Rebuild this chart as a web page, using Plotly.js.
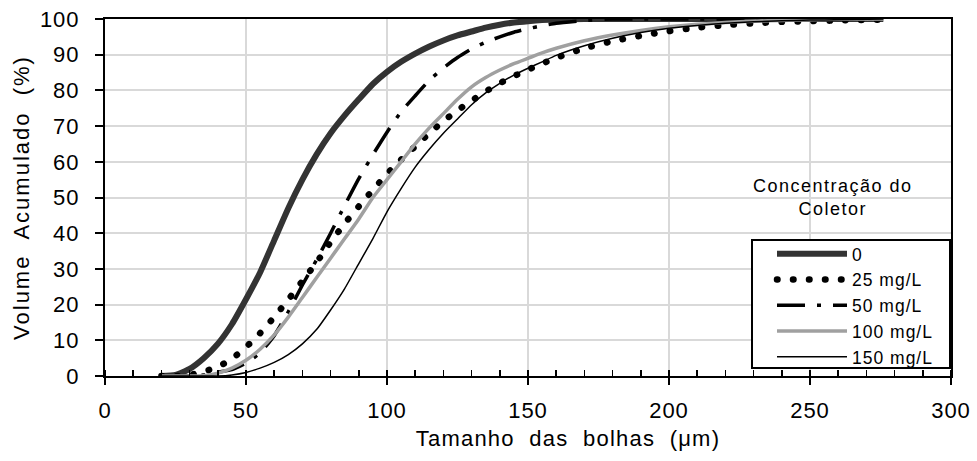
<!DOCTYPE html>
<html><head><meta charset="utf-8">
<script src="https://cdn.plot.ly/plotly-3.0.1.min.js"></script>
<style>
html,body{margin:0;padding:0;background:#fff;}
#chart{width:977px;height:461px;}
.xtitle{letter-spacing:1.2px;}
.ytitle{letter-spacing:2px;}
.xtick text,.ytick text{letter-spacing:1px;}
.legendtext{letter-spacing:1px;}
.annotation-text{letter-spacing:1.5px;}
</style></head><body><div id="chart"></div>
<script>
// Bubble size (µm)
const bubbleSize = [20,25,30,35,40,45,50,55,60,65,70,75,80,85,90,95,100,105,110,115,120,125,130,135,140,145,150,155,160,170,180,190,200,210,220,230,240,250,260,276];
// Cumulative volume (%) per collector concentration
const conc0   = [0,0.3,2,5,9,14.5,21.5,29,38,47,55,62,68,73,77.5,81.8,85.2,88,90.3,92.3,94,95.4,96.5,97.6,98.4,99,99.4,99.7,99.85,100,100,100,100,100,100,100,100,100,100,100];
const conc25  = [0,0,0.3,1.2,2.6,4.8,8.1,12,16.5,21.4,26.6,31.8,37.5,42.7,47.5,52.1,56.6,60.6,64.3,68,71.4,74.4,77.1,79.7,82,84,85.8,87.5,89.1,91.8,93.8,95.3,96.6,97.6,98.3,98.8,99.2,99.4,99.6,99.8];
const conc50  = [0,0,0,0.3,1.1,1.8,3.6,6.5,11.3,18,25.5,32.5,40,47.8,55.3,62,68.3,74,78.5,82.8,86.3,89.2,91.6,93.5,95,96.3,97.3,98.1,98.8,99.6,100,100,100,100,100,100,100,100,100,100];
const conc100 = [0,0,0,0.1,0.8,2.2,4.4,7.5,11.5,16.5,22,27.5,33,38.5,44,50,55,60,65,69.5,73.5,77.5,81,83.6,85.7,87.5,89,90.5,91.8,93.9,95.5,96.8,97.8,98.5,99,99.4,99.6,99.8,99.9,100];
const conc150 = [0,0,0,0,0,0.3,1,2.2,3.8,6,9,13,18.5,24.5,31.5,38.5,46,52.5,58.5,63.5,68,72,76,79.3,82,84.3,86.2,88,89.8,92.5,94.6,96.2,97.4,98.2,98.8,99.2,99.5,99.7,99.8,100];
const seriesNames = ['0','25 mg/L','50 mg/L','100 mg/L','150 mg/L'];
const xTickVals = [0,50,100,150,200,250,300];
const yTickVals = [0,10,20,30,40,50,60,70,80,90,100];

const FONT = 'Liberation Sans, Arial, sans-serif';
const sm = {shape:'spline', smoothing:0.5};

const traces = [
  {x:bubbleSize, y:conc0, name:seriesNames[0], mode:'lines', line:Object.assign({color:'#333333', width:6}, sm)},
  {x:bubbleSize, y:conc25, name:seriesNames[1], mode:'lines', line:Object.assign({color:'#000000', width:6.5, dash:'0.5px,15.5px'}, sm)},
  {x:bubbleSize, y:conc50, name:seriesNames[2], mode:'lines', line:Object.assign({color:'#000000', width:3.5, dash:'28px,12px,4px,12px'}, sm)},
  {x:bubbleSize, y:conc100, name:seriesNames[3], mode:'lines', line:Object.assign({color:'#a0a0a0', width:3.5}, sm)},
  {x:bubbleSize, y:conc150, name:seriesNames[4], mode:'lines', line:Object.assign({color:'#000000', width:1.5}, sm)}
];

const layout = {
  width:977, height:461,
  margin:{l:105, r:26, t:19, b:85},
  paper_bgcolor:'#ffffff', plot_bgcolor:'#ffffff',
  font:{family:FONT, color:'#000000', size:22},
  showlegend:true,
  legend:{x:1, xanchor:'right', y:0.384, yanchor:'top', bgcolor:'#ffffff', bordercolor:'#000000', borderwidth:2,
          font:{family:FONT, size:17.5, color:'#000000'}, itemwidth:70, tracegroupgap:0},
  xaxis:{range:[0,300], tickvals:xTickVals, ticks:'outside', ticklen:7, tickwidth:2, tickcolor:'#000',
         showline:true, linecolor:'#000', linewidth:2, mirror:true, zeroline:false,
         showgrid:true, gridcolor:'#d9d9d9', gridwidth:2, ticklabelstandoff:7,
         minor:{dtick:10, ticks:'inside', ticklen:6, tickwidth:1.5, tickcolor:'#000', showgrid:false},
         tickfont:{family:FONT, size:22, color:'#000'},
         title:{text:'Tamanho  das  bolhas  (μm)', font:{family:FONT, size:22, color:'#000'}, standoff:8}},
  xaxis2:{overlaying:'x', matches:'x', anchor:'y', side:'bottom', tickvals:xTickVals, ticks:'inside', ticklen:6,
          tickwidth:2, tickcolor:'#000', showticklabels:false, showgrid:false, showline:false, zeroline:false},
  yaxis:{range:[0,100], tickvals:yTickVals, ticks:'outside', ticklen:8, tickwidth:2, tickcolor:'#000',
         showline:true, linecolor:'#000', linewidth:2, mirror:true, zeroline:false,
         showgrid:true, gridcolor:'#d9d9d9', gridwidth:2, ticklabelstandoff:11,
         tickfont:{family:FONT, size:22, color:'#000'},
         title:{text:'Volume  Acumulado  (%)', font:{family:FONT, size:22, color:'#000'}, standoff:4}},
  annotations:[{xref:'paper', yref:'paper', x:0.86, y:0.4986, xanchor:'center', yanchor:'middle', showarrow:false,
                text:'Concentração do<br>Coletor', font:{family:FONT, size:18, color:'#000'}}]
};

Plotly.newPlot('chart', traces, layout, {displayModeBar:false, staticPlot:true}).then(function(){
  // round dots for the dotted series
  const plotTraces = document.querySelectorAll('.scatterlayer .trace');
  if (plotTraces[1]) plotTraces[1].querySelectorAll('path.js-line').forEach(p => p.style.strokeLinecap = 'round');
  const legTraces = document.querySelectorAll('.legend .traces');
  if (legTraces[1]) legTraces[1].querySelectorAll('path.js-line').forEach(p => p.style.strokeLinecap = 'round');
  // legend box size like the reference
  const legG = document.querySelector('g.legend');
  if (legG) {
    const bg = legG.querySelector('rect.bg');
    const w = parseFloat(bg.getAttribute('width'));
    const m = /translate\(([-\d.]+)[,\s]+([-\d.]+)\)/.exec(legG.getAttribute('transform') || '');
    if (m) {
      const tx = parseFloat(m[1]) + w - 198, ty = parseFloat(m[2]);
      legG.setAttribute('transform', 'translate(' + tx + ',' + ty + ')');
    }
    bg.setAttribute('width', 198);
    bg.setAttribute('height', 128);
    const sb = legG.querySelector('.scrollbox');
    if (sb) sb.setAttribute('transform', 'translate(19,-5)');
  }
  // x title offset as in the reference
  const xt = document.querySelector('.xtitle');
  if (xt) xt.setAttribute('transform', 'translate(40,0)');
});
</script></body></html>
